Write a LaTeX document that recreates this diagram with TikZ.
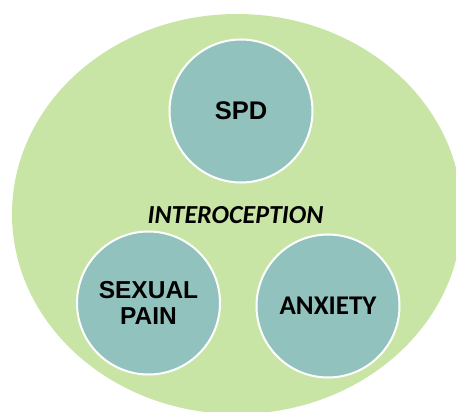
\documentclass[tikz,border=0pt]{standalone}
\usepackage{fontspec}
\setmainfont{Liberation Sans}
\newfontfamily\calib{Carlito}
\usetikzlibrary{shapes.geometric}
\definecolor{bggreen}{RGB}{201,229,166}
\definecolor{tealfill}{RGB}{146,194,190}
\begin{document}
\begin{tikzpicture}[x=1pt,y=-1pt,
  bubble/.style={circle, fill=tealfill, draw=white, line width=2pt,
    minimum size=143pt, inner sep=0pt, align=center,
    font=\bfseries\fontsize{24.5}{26.6}\selectfont}]
\useasboundingbox (0,0) rectangle (456,412);
\clip (0,0) rectangle (456,412);
\node[ellipse, fill=bggreen, minimum width=450pt, minimum height=400pt, inner sep=0pt] (field) at (237,214) {};
\node[bubble, font=\bfseries\fontsize{25.5}{28}\selectfont] (spd) at (241,111) {SPD};
\node[bubble] (pain) at (148.5,303) {SEXUAL\\PAIN};
\node[bubble, font=\calib\bfseries\fontsize{27}{30}\selectfont] (anx) at (328,306) {ANXIETY};
\node[font=\calib\bfseries\itshape\fontsize{26}{30}\selectfont, inner sep=0pt] (intero) at (235.5,215.3) {INTEROCEPTION};
\end{tikzpicture}
\end{document}
